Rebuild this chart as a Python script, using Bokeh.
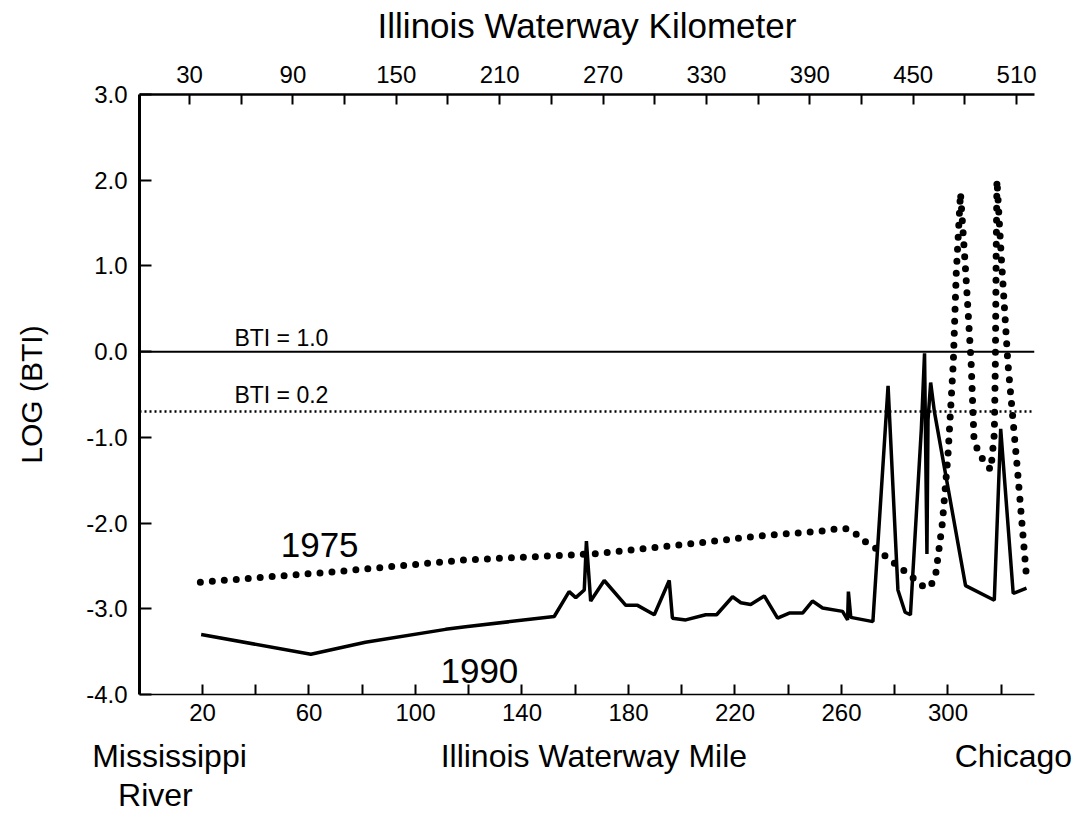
import math
from bokeh.plotting import figure
from bokeh.models import Range1d, LinearAxis, FixedTicker, Span, Label, PrintfTickFormatter
from bokeh.embed import file_html
from bokeh.resources import INLINE

# ---------------- data ----------------
mile_1990 = [19.5, 60.7, 81.2, 111.3, 118.8, 152.1, 157.7, 160.2, 163.4, 164.2, 165.8,
             170.9, 179.0, 183.4, 189.7, 195.3, 196.5, 201.5, 209.0, 213.1, 219.1,
             222.2, 225.9, 231.0, 236.0, 240.4, 245.4, 249.1, 252.9, 260.4, 262.3,
             262.6, 263.5, 271.8, 277.5, 281.2, 283.9, 285.9, 290.0, 291.2, 291.5,
             292.1, 292.5, 293.5, 294.9, 306.6, 317.4, 319.8, 324.5, 329.5]
logbti_1990 = [-3.30, -3.53, -3.39, -3.24, -3.21, -3.09, -2.80, -2.87, -2.78, -2.21, -2.91,
               -2.67, -2.96, -2.96, -3.07, -2.67, -3.11, -3.13, -3.07, -3.07, -2.86,
               -2.93, -2.95, -2.85, -3.11, -3.05, -3.05, -2.91, -2.99, -3.03, -3.13,
               -2.80, -3.10, -3.15, -0.40, -2.78, -3.04, -3.07, -0.90, -0.02, -0.80,
               -2.36, -0.80, -0.36, -0.70, -2.73, -2.90, -0.90, -2.82, -2.76]

mile_1975 = [19.2, 68.8, 118.8, 166.5, 204.0, 229.1, 254.1, 259.6, 262.9, 266.0, 269.1,
             272.3, 277.9, 284.1, 290.4, 293.2, 295.3, 297.9, 300.0, 302.0, 303.1, 304.7,
             306.7, 308.7, 309.8, 312.0, 316.1, 317.4, 317.8, 318.1, 318.4, 320.0,
             322.5, 326.1, 329.5]
logbti_1975 = [-2.69, -2.57, -2.43, -2.36, -2.24, -2.15, -2.09, -2.06, -2.07, -2.14, -2.22,
               -2.28, -2.42, -2.57, -2.73, -2.75, -2.62, -2.00, -1.21, -0.13, 0.91, 1.85,
               0.91, -0.13, -1.04, -1.21, -1.38, -0.96, -0.13, 1.12, 2.00, 1.12,
               -0.13, -1.38, -2.63]

bti_levels = [1.0, 0.2]
bti_labels = ["BTI = 1.0", "BTI = 0.2"]

mile_ticks = [20, 60, 100, 140, 180, 220, 260, 300]
mile_minor = [40, 80, 120, 160, 200, 240, 280, 320]
km_ticks = [30, 90, 150, 210, 270, 330, 390, 450, 510]
km_minor = [60, 120, 180, 240, 300, 360, 420, 480]
y_ticks = [-4, -3, -2, -1, 0, 1, 2, 3]

# texts under the mile axis, placed at mile positions
under_row = {7.6: "Mississippi", 167.0: "Illinois Waterway Mile", 324.6: "Chicago"}
under_row2 = {2.3: "River"}

FONT = "Liberation Sans"

p = figure(width=1074, height=820,
           x_range=Range1d(-3.66, 332.5), y_range=Range1d(-4, 3),
           output_backend="svg", toolbar_location=None,
           min_border_left=139, min_border_right=40,
           min_border_top=94, min_border_bottom=126)
p.background_fill_color = "white"
p.border_fill_color = "white"
p.grid.visible = False
p.outline_line_color = None


def style(ax, label_size="24px"):
    ax.major_label_text_font = FONT
    ax.major_label_text_font_size = label_size
    ax.major_label_text_color = "black"
    ax.axis_label_text_font = FONT
    ax.axis_label_text_font_style = "normal"
    ax.axis_label_text_color = "black"
    ax.axis_line_color = "black"
    ax.major_tick_line_color = "black"
    ax.minor_tick_line_color = "black"


# bottom axis (miles)
xb = p.xaxis[0]
style(xb)
xb.ticker = FixedTicker(ticks=mile_ticks, minor_ticks=mile_minor)
xb.major_tick_in = 10
xb.major_tick_out = 0
xb.minor_tick_in = 10
xb.minor_tick_out = 0
xb.major_tick_line_width = 2
xb.minor_tick_line_width = 2
xb.axis_line_width = 1.5
xb.major_label_standoff = 9

# text rows below the mile axis
for rows, standoff in ((under_row, 14), (under_row2, 0)):
    ax = LinearAxis()
    style(ax, "32px")
    ax.ticker = FixedTicker(ticks=list(rows.keys()), minor_ticks=[])
    ax.major_label_overrides = {k: v for k, v in rows.items()}
    ax.axis_line_color = None
    ax.major_tick_line_color = None
    ax.minor_tick_line_color = None
    ax.major_tick_in = 0
    ax.major_tick_out = 0
    ax.major_label_standoff = standoff
    p.add_layout(ax, "below")

# top axis (km)
p.extra_x_ranges = {"km": Range1d(0.98, 520.4)}
xt = LinearAxis(x_range_name="km")
style(xt)
xt.ticker = FixedTicker(ticks=km_ticks, minor_ticks=km_minor)
xt.axis_label = "Illinois Waterway Kilometer"
xt.axis_label_text_font_size = "35px"
xt.major_tick_in = 10
xt.major_tick_out = 0
xt.minor_tick_in = 10
xt.minor_tick_out = 0
xt.major_tick_line_width = 2
xt.minor_tick_line_width = 2
xt.axis_line_width = 2.5
xt.major_label_standoff = 12
xt.axis_label_standoff = 18
p.add_layout(xt, "above")

# left axis
yl = p.yaxis[0]
style(yl)
yl.ticker = FixedTicker(ticks=y_ticks)
yl.formatter = PrintfTickFormatter(format="%.1f")
yl.axis_label = "LOG (BTI)"
yl.axis_label_text_font_size = "30px"
yl.major_tick_in = 12
yl.major_tick_out = 0
yl.minor_tick_in = 0
yl.minor_tick_out = 0
yl.major_tick_line_width = 2
yl.axis_line_width = 3
yl.major_label_standoff = 12
yl.axis_label_standoff = 35

# reference levels
p.add_layout(Span(location=math.log10(bti_levels[0]), dimension="width",
                  line_color="black", line_width=2))
p.add_layout(Span(location=math.log10(bti_levels[1]), dimension="width",
                  line_color="black", line_width=2.5, line_dash="2 3"))

# series
p.line(mile_1990, logbti_1990, line_color="black", line_width=3.5)
p.line(mile_1975, logbti_1975, line_color="black", line_width=7,
       line_dash="0 12", line_cap="round")

# annotations
p.add_layout(Label(x=32.0, y=0.16, text=bti_labels[0], text_baseline="middle",
                   text_font=FONT, text_font_size="23px", text_color="black"))
p.add_layout(Label(x=32.0, y=-0.50, text=bti_labels[1], text_baseline="middle",
                   text_font=FONT, text_font_size="23px", text_color="black"))
p.add_layout(Label(x=64.0, y=-2.25, text="1975", text_align="center", text_baseline="middle",
                   text_font=FONT, text_font_size="35px", text_color="black"))
p.add_layout(Label(x=124.0, y=-3.73, text="1990", text_align="center", text_baseline="middle",
                   text_font=FONT, text_font_size="35px", text_color="black"))

open("out.html", "w").write(file_html(p, INLINE))
